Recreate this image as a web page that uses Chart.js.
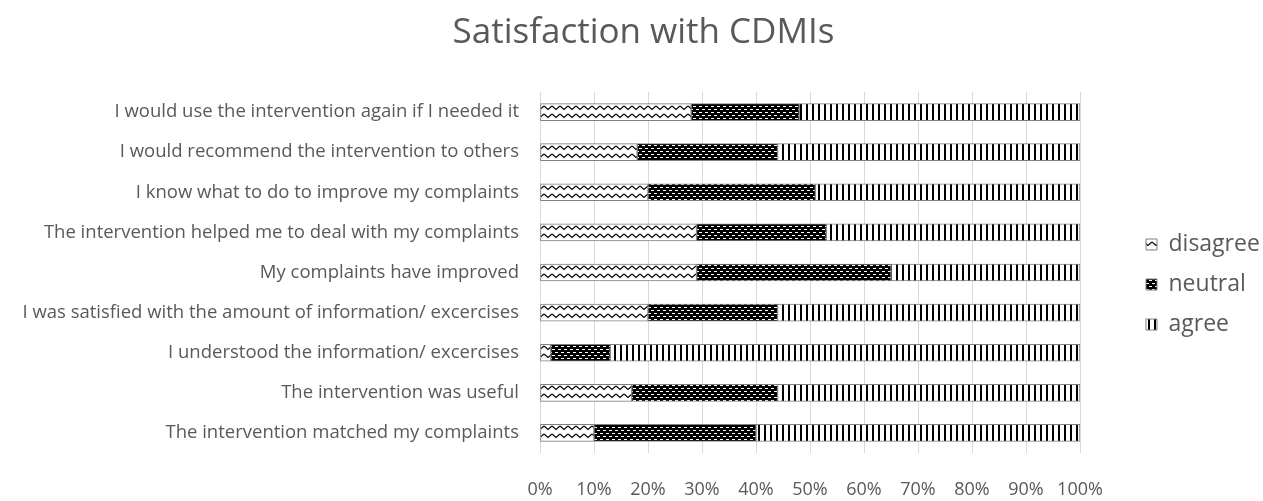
<!DOCTYPE html>
<html>
<head>
<meta charset="utf-8">
<script src="https://cdn.jsdelivr.net/npm/chart.js@4"></script>
<style>
  body { margin: 0; background: #fff; }
  #wrap { width: 1263px; height: 501px; }
</style>
</head>
<body>
<div id="wrap"><canvas id="grafico"></canvas></div>
<script>
const statements = [
    'I would use the intervention again if I needed it',
    'I would recommend the intervention to others',
    'I know what to do to improve my complaints',
    'The intervention helped me to deal with my complaints',
    'My complaints have improved',
    'I was satisfied with the amount of information/ excercises',
    'I understood the information/ excercises',
    'The intervention was useful',
    'The intervention matched my complaints'
];
const disagree = [28, 18, 20, 29, 29, 20, 2, 17, 10];
const neutral  = [20, 26, 31, 24, 36, 24, 11, 27, 30];
const agree    = [52, 56, 49, 47, 35, 56, 87, 56, 60];
const xTicks = [0, 10, 20, 30, 40, 50, 60, 70, 80, 90, 100];

const txt = '#595959';
const font = '"Open Sans", Lato, sans-serif';

// little tiles for the excel-like fill patterns
function tile(w, h, draw) {
    const c = document.createElement('canvas');
    c.width = w; c.height = h;
    const g = c.getContext('2d');
    draw(g);
    return g.createPattern(c, 'repeat');
}

const wave = tile(8, 8, g => {
    g.fillStyle = '#fff';
    g.fillRect(0, 0, 8, 8);
    g.strokeStyle = '#000';
    g.lineWidth = 1.2;
    g.beginPath();
    g.moveTo(0, 2); g.lineTo(4, 5.5); g.lineTo(8, 2);
    g.stroke();
});

const dots = tile(6, 6, g => {
    g.fillStyle = '#000';
    g.fillRect(0, 0, 6, 6);
    g.fillStyle = '#fff';
    g.fillRect(0, 1, 3, 1);
    g.fillRect(3, 4, 3, 1);
});

const stripes = tile(6, 6, g => {
    g.fillStyle = '#fff';
    g.fillRect(0, 0, 6, 6);
    g.fillStyle = '#000';
    g.fillRect(2, 0, 2, 6);
});

const ctx = document.getElementById('grafico');

new Chart(ctx, {
    type: 'bar',
    data: {
        labels: statements,
        datasets: [
            { label: 'disagree', data: disagree, backgroundColor: wave },
            { label: 'neutral', data: neutral, backgroundColor: dots },
            { label: 'agree', data: agree, backgroundColor: stripes }
        ].map(d => Object.assign(d, {
            borderColor: '#808080',
            borderWidth: 1,
            borderSkipped: false,
            barThickness: 17
        }))
    },
    options: {
        indexAxis: 'y',
        responsive: true,
        maintainAspectRatio: false,
        animation: false,
        plugins: {
            title: {
                display: true,
                text: 'Satisfaction with CDMIs',
                color: txt,
                font: { family: font, size: 35, weight: 'normal' },
                padding: { top: 12, bottom: 38 }
            },
            legend: {
                position: 'right',
                labels: {
                    color: txt,
                    font: { family: font, size: 23 },
                    boxWidth: 11,
                    boxHeight: 11,
                    padding: 17
                }
            },
            tooltip: { enabled: false }
        },
        scales: {
            x: {
                stacked: true,
                min: 0,
                max: 100,
                afterBuildTicks: s => { s.ticks = xTicks.map(v => ({ value: v })); },
                afterFit: s => { s.height = 48; },
                ticks: {
                    color: txt,
                    font: { family: font, size: 18 },
                    padding: 26,
                    callback: v => v + '%'
                },
                grid: { color: '#d9d9d9', drawTicks: false },
                border: { display: false }
            },
            y: {
                stacked: true,
                afterFit: s => { s.width = 540; },
                ticks: {
                    color: txt,
                    font: { family: font, size: 18.5 },
                    padding: 13
                },
                grid: { display: false },
                border: { display: false }
            }
        }
    },
    plugins: [{
        id: 'legendSpot',
        beforeLayout(chart) {
            const lg = chart.legend;
            if (lg && !lg._wide) {
                const fit = lg.fit;
                lg.fit = function () { fit.call(this); this.width = 183; };
                lg._wide = true;
            }
        },
        afterLayout(chart) {
            const lg = chart.legend;
            lg.left += 49;
            lg.right += 49;
            lg.top += 34;
            lg.bottom += 34;
            const tb = chart.titleBlock;
            tb.left += 12;
            tb.right += 12;
        }
    }]
});
</script>
</body>
</html>
